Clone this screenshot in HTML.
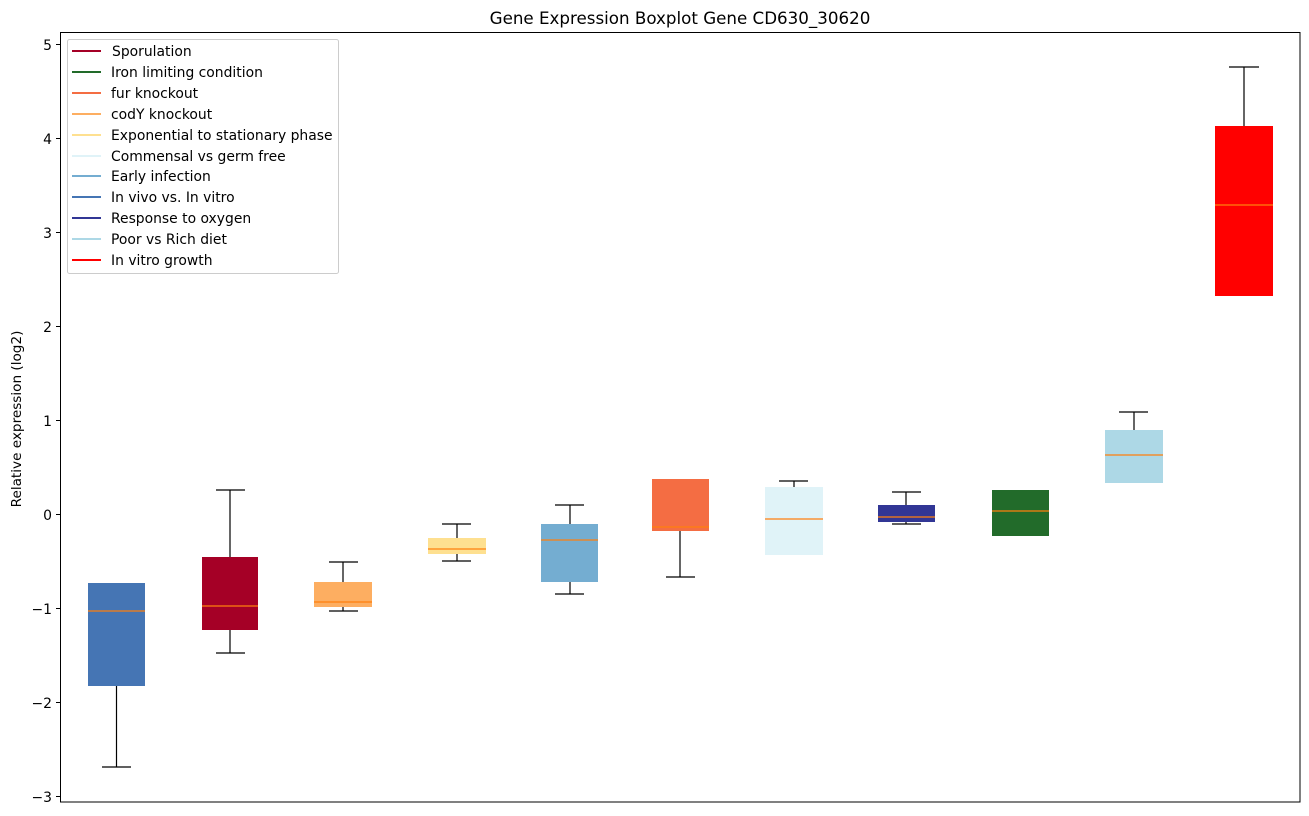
<!DOCTYPE html>
<html><head><meta charset="utf-8"><style>body{margin:0;background:#fff}svg{display:block}text{font-family:"DejaVu Sans","Liberation Sans",sans-serif}</style></head>
<body>
<svg width="1309" height="816" viewBox="0 0 1309 816" xmlns="http://www.w3.org/2000/svg">
<rect width="1309" height="816" fill="#fff"/>
<text x="680" y="24" font-size="16.7" text-anchor="middle">Gene Expression Boxplot Gene CD630_30620</text>
<g font-size="13.9" text-anchor="end" fill="#000">
<text x="52" y="50">5</text><text x="52" y="144">4</text><text x="52" y="238">3</text><text x="52" y="332">2</text><text x="52" y="426">1</text><text x="52" y="520">0</text><text x="52" y="614">−1</text><text x="52" y="708">−2</text><text x="52" y="802">−3</text>
</g>
<g stroke="#000" stroke-width="1">
<line x1="56" x2="61" y1="44.5" y2="44.5"/><line x1="56" x2="61" y1="138.5" y2="138.5"/><line x1="56" x2="61" y1="232.5" y2="232.5"/><line x1="56" x2="61" y1="326.5" y2="326.5"/><line x1="56" x2="61" y1="420.5" y2="420.5"/><line x1="56" x2="61" y1="514.5" y2="514.5"/><line x1="56" x2="61" y1="608.5" y2="608.5"/><line x1="56" x2="61" y1="702.5" y2="702.5"/><line x1="56" x2="61" y1="796.5" y2="796.5"/>
</g>
<text transform="translate(21,419) rotate(-90)" font-size="13.6" text-anchor="middle">Relative expression (log2)</text>

<g stroke="#000" stroke-width="1.2">
<line x1="116.5" x2="116.5" y1="686" y2="767"/><line x1="102" x2="131" y1="767" y2="767"/>
<line x1="230" x2="230" y1="490" y2="557"/><line x1="230" x2="230" y1="630" y2="653"/><line x1="216" x2="245" y1="490" y2="490"/><line x1="216" x2="245" y1="653" y2="653"/>
<line x1="343" x2="343" y1="562" y2="582"/><line x1="329" x2="358" y1="562" y2="562"/><line x1="329" x2="358" y1="611" y2="611"/><line x1="343" x2="343" y1="607" y2="611"/>
<line x1="457" x2="457" y1="524" y2="538"/><line x1="457" x2="457" y1="554" y2="561"/><line x1="442" x2="471" y1="524" y2="524"/><line x1="442" x2="471" y1="561" y2="561"/>
<line x1="570" x2="570" y1="505" y2="524"/><line x1="570" x2="570" y1="582" y2="594"/><line x1="555" x2="584" y1="505" y2="505"/><line x1="555" x2="584" y1="594" y2="594"/>
<line x1="680" x2="680" y1="531" y2="577"/><line x1="666" x2="695" y1="577" y2="577"/>
<line x1="794" x2="794" y1="481" y2="487"/><line x1="779" x2="808" y1="481" y2="481"/>
<line x1="906" x2="906" y1="492" y2="505"/><line x1="906" x2="906" y1="522" y2="524"/><line x1="892" x2="921" y1="492" y2="492"/><line x1="892" x2="921" y1="524" y2="524"/>
<line x1="1134" x2="1134" y1="412" y2="430"/><line x1="1119" x2="1148" y1="412" y2="412"/>
<line x1="1244" x2="1244" y1="67" y2="126"/><line x1="1229" x2="1259" y1="67" y2="67"/>
</g>
<g>
<rect x="88" y="583" width="57" height="103" fill="#4575b4"/>
<rect x="202" y="557" width="56" height="73" fill="#a50026"/>
<rect x="314" y="582" width="58" height="25" fill="#fdae61"/>
<rect x="428" y="538" width="58" height="16" fill="#fee090"/>
<rect x="541" y="524" width="57" height="58" fill="#74add1"/>
<rect x="652" y="479" width="57" height="52" fill="#f46d43"/>
<rect x="765" y="487" width="58" height="68" fill="#e0f3f8"/>
<rect x="878" y="505" width="57" height="17" fill="#313695"/>
<rect x="992" y="490" width="57" height="46" fill="#226b2a"/>
<rect x="1105" y="430" width="58" height="53" fill="#add8e6"/>
<rect x="1215" y="126" width="58" height="170" fill="#ff0000"/>
</g>
<g stroke="#ff7f0e" stroke-width="1.2">
<line x1="88" x2="145" y1="611" y2="611"/><line x1="202" x2="258" y1="606" y2="606"/><line x1="314" x2="372" y1="602" y2="602"/><line x1="428" x2="486" y1="549" y2="549"/><line x1="541" x2="598" y1="540" y2="540"/><line x1="652" x2="709" y1="527" y2="527"/><line x1="765" x2="823" y1="519" y2="519"/><line x1="878" x2="935" y1="517" y2="517"/><line x1="992" x2="1049" y1="511" y2="511"/><line x1="1105" x2="1163" y1="455" y2="455"/><line x1="1215" x2="1273" y1="205" y2="205"/>
</g>
<rect x="60.5" y="32.5" width="1239.5" height="769.5" fill="none" stroke="#000" stroke-width="1"/>

<rect x="67.5" y="39.5" width="271" height="234" rx="2" fill="#fff" fill-opacity="0.8" stroke="#ccc"/>
<g stroke-width="2">
<line x1="72" x2="101" y1="51" y2="51" stroke="#a50026"/>
<line x1="72" x2="101" y1="72" y2="72" stroke="#226b2a"/>
<line x1="72" x2="101" y1="93" y2="93" stroke="#f46d43"/>
<line x1="72" x2="101" y1="114" y2="114" stroke="#fdae61"/>
<line x1="72" x2="101" y1="135" y2="135" stroke="#fee090"/>
<line x1="72" x2="101" y1="156" y2="156" stroke="#e0f3f8"/>
<line x1="72" x2="101" y1="176" y2="176" stroke="#74add1"/>
<line x1="72" x2="101" y1="197" y2="197" stroke="#4575b4"/>
<line x1="72" x2="101" y1="218" y2="218" stroke="#313695"/>
<line x1="72" x2="101" y1="239" y2="239" stroke="#add8e6"/>
<line x1="72" x2="101" y1="260" y2="260" stroke="#ff0000"/>
</g>
<g font-size="13.9">
<text x="112" y="56">Sporulation</text>
<text x="111" y="77">Iron limiting condition</text>
<text x="111" y="98">fur knockout</text>
<text x="111" y="119">codY knockout</text>
<text x="111" y="140">Exponential to stationary phase</text>
<text x="111" y="161">Commensal vs germ free</text>
<text x="111" y="181">Early infection</text>
<text x="111" y="202">In vivo vs. In vitro</text>
<text x="111" y="223">Response to oxygen</text>
<text x="111" y="244">Poor vs Rich diet</text>
<text x="111" y="265">In vitro growth</text>
</g>
</svg>
</body></html>
